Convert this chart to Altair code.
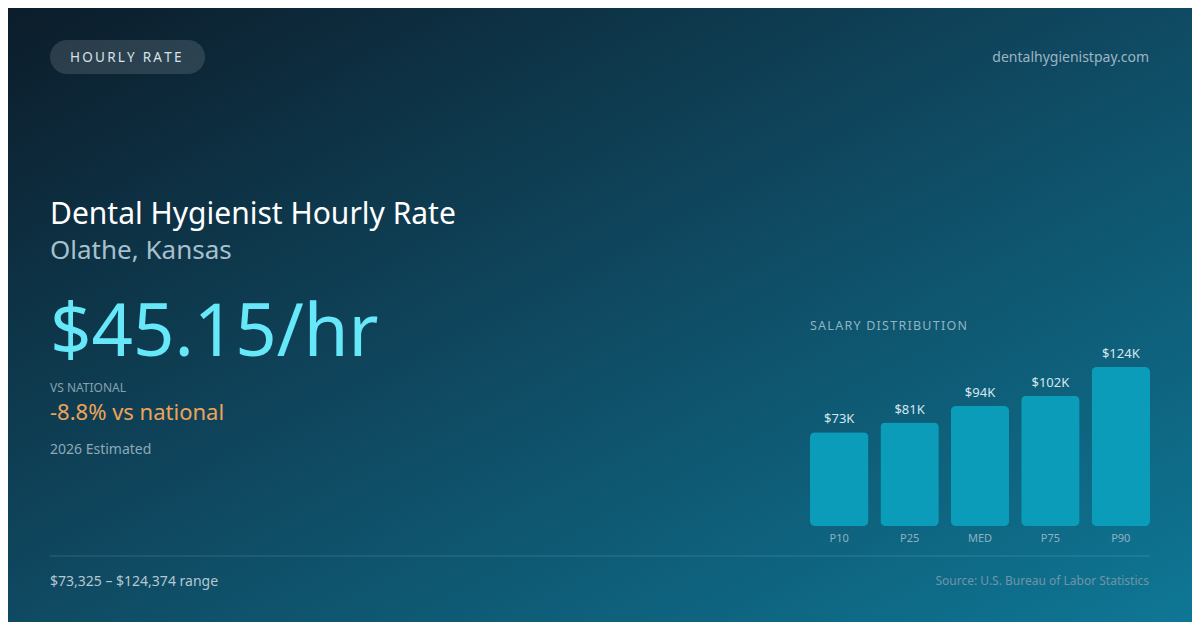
import altair as alt
import pandas as pd

# ---- data ----
percentiles = ["P10", "P25", "MED", "P75", "P90"]
salaries = [73325, 80900, 93912, 101800, 124374]

badge_text = "HOURLY RATE"
site_text = "dentalhygienistpay.com"
title_text = "Dental Hygienist Hourly Rate"
subtitle_text = "Olathe, Kansas"
rate_text = "$45.15/hr"
vs_label_text = "VS NATIONAL"
vs_value_text = "-8.8% vs national"
estimate_text = "2026 Estimated"
dist_title_text = "SALARY DISTRIBUTION"
range_text = "$73,325 – $124,374 range"
source_text = "Source: U.S. Bureau of Labor Statistics"

FONT = "Noto Sans"
W, H = 1184, 614
OFF = 8  # page margin offset: reference coords minus 8


def spaced(s, sp="\u2009"):
    return sp.join(list(s))


df = pd.DataFrame({"pct": percentiles, "salary": salaries})
one = alt.Data(values=[{"a": 1}])

bg = alt.Chart(one).mark_rect(
    color=alt.Gradient(
        gradient="linear",
        stops=[
            alt.GradientStop(color="#0c1c2a", offset=0),
            alt.GradientStop(color="#0f4a62", offset=0.5),
            alt.GradientStop(color="#0e7795", offset=1),
        ],
        x1=0, y1=0, x2=1, y2=1,
    )
).encode(x=alt.value(0), x2=alt.value(W), y=alt.value(0), y2=alt.value(H))

pill = alt.Chart(one).mark_rect(
    color="#ffffff", opacity=0.13, cornerRadius=17
).encode(
    x=alt.value(50 - OFF), x2=alt.value(205 - OFF),
    y=alt.value(40 - OFF), y2=alt.value(74 - OFF),
)


def txt(text, x, y, size, color, align="left", baseline="alphabetic", weight="normal"):
    return alt.Chart(one).mark_text(
        text=text, font=FONT, fontSize=size, color=color,
        align=align, baseline=baseline, fontWeight=weight,
    ).encode(x=alt.value(x - OFF), y=alt.value(y - OFF))


texts = [
    txt(spaced(badge_text), 70, 58, 13.5, "#d6e1e8", baseline="middle"),
    txt(site_text, 1149, 58, 14, "#9db5c3", align="right", baseline="middle"),
    txt(title_text, 50, 224, 30, "#ffffff"),
    txt(subtitle_text, 50, 259, 26, "#a7c0cd"),
    txt(rate_text, 50, 356, 72.5, "#67e8f9"),
    txt(vs_label_text, 50, 392, 12, "#86a2b2"),
    txt(vs_value_text, 50, 420, 22, "#eea458"),
    txt(estimate_text, 50, 454, 14, "#8ea8b7"),
    txt(spaced(dist_title_text, "\u200a"), 810, 330, 12.5, "#8fb4c4"),
    txt(range_text, 50, 586, 14, "#b5c7d2"),
    txt(source_text, 1149, 585, 12, "#6f95a8", align="right"),
]

divider = alt.Chart(one).mark_rule(color="#ffffff", opacity=0.15, strokeWidth=1).encode(
    x=alt.value(50 - OFF), x2=alt.value(1150 - OFF), y=alt.value(556 - OFF)
)

xs = alt.X("pct:N", sort=percentiles, axis=None,
           scale=alt.Scale(range=[810 - OFF, 1150 - OFF], paddingInner=0.17, paddingOuter=0))
ys = alt.Y("salary:Q", axis=None,
           scale=alt.Scale(domain=[0, 124374], range=[526 - OFF, 367 - OFF], nice=False, zero=True))

base = alt.Chart(df)
bars = base.mark_bar(color="#0b9cb9", cornerRadius=5).encode(x=xs, y=ys)
val_labels = base.transform_calculate(
    lab="'$' + format(datum.salary / 1000, '.0f') + 'K'"
).mark_text(font=FONT, fontSize=13, color="#d5e6ee", baseline="alphabetic", dy=-9).encode(
    x=xs, y=ys, text="lab:N"
)
cat_labels = base.mark_text(font=FONT, fontSize=11, color="#8fb2c2", baseline="middle").encode(
    x=xs, y=alt.value(539 - OFF), text="pct:N"
)

chart = alt.layer(bg, pill, divider, *texts, bars, val_labels, cat_labels).properties(
    width=W, height=H, padding=0, autosize=alt.AutoSizeParams(type="none")
).configure_view(stroke=None).configure(background="#0c1c2a")

chart.save("out.html", embed_options={"renderer": "svg", "actions": False})
